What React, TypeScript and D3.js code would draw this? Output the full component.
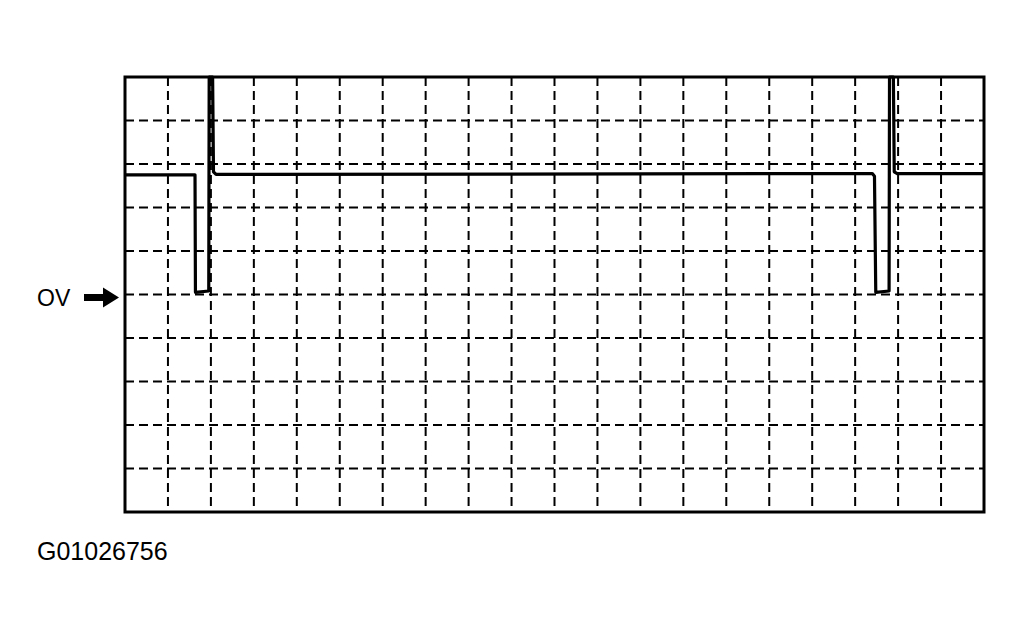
import React from "react";
import * as d3 from "d3";

// Waveform points in grid divisions: [time division, voltage division]
const signalTime = [0, 1.63, 1.64, 1.95, 1.96, 2.04, 2.06, 2.12, 17.4, 17.45, 17.48, 17.79, 17.8, 17.89, 17.91, 17.98, 20];
const signalVolts = [2.75, 2.75, 0.05, 0.08, 5, 5, 2.82, 2.76, 2.78, 2.72, 0.05, 0.08, 5, 5, 2.82, 2.78, 2.78];

const xDivisions = d3.range(0, 21);
const yDivisions = d3.range(-5, 6);
const zeroLabel = "OV";
const figureCode = "G01026756";

export default function App() {
  const x = d3.scaleLinear().domain([0, 20]).range([125, 984]);
  const y = d3.scaleLinear().domain([-5, 5]).range([512, 77]);
  const pts: [number, number][] = signalTime.map((t, i) => [t, signalVolts[i]]);
  const line = d3
    .line<[number, number]>()
    .x((d) => x(d[0]))
    .y((d) => y(d[1]));
  const innerX = xDivisions.filter((d) => d > 0 && d < 20);
  const innerY = yDivisions.filter((d) => d > -5 && d < 5);
  const y0 = y(0) + 3;
  return (
    <svg width={1025} height={635} style={{ position: "absolute", left: 0, top: 0, background: "#fff" }}>
      <rect width={1025} height={635} fill="#fff" />
      <g stroke="#000" strokeWidth={2} strokeDasharray="9 5" fill="none">
        {innerX.map((d) => (
          <line key={"vx" + d} x1={x(d)} x2={x(d)} y1={y(5)} y2={y(-5)} />
        ))}
        {innerY.map((d) => (
          <line key={"hy" + d} x1={x(0)} x2={x(20)} y1={y(d)} y2={y(d)} />
        ))}
      </g>
      <rect x={x(0)} y={y(5)} width={x(20) - x(0)} height={y(-5) - y(5)} fill="none" stroke="#000" strokeWidth={3} />
      <path d={line(pts) || ""} fill="none" stroke="#000" strokeWidth={3.2} strokeLinejoin="round" />
      <text
        x={37}
        y={y0 + 8}
        fontFamily="'Liberation Sans', Arial, sans-serif"
        fontSize={23}
        fill="#000"
      >
        {zeroLabel}
      </text>
      <path
        d={`M 84 ${y0 - 3.5} L 103 ${y0 - 3.5} L 103 ${y0 - 10} L 119 ${y0} L 103 ${y0 + 10} L 103 ${y0 + 3.5} L 84 ${y0 + 3.5} Z`}
        fill="#000"
      />
      <text x={37} y={560} fontFamily="'Liberation Sans', Arial, sans-serif" fontSize={25} fill="#000">
        {figureCode}
      </text>
    </svg>
  );
}
